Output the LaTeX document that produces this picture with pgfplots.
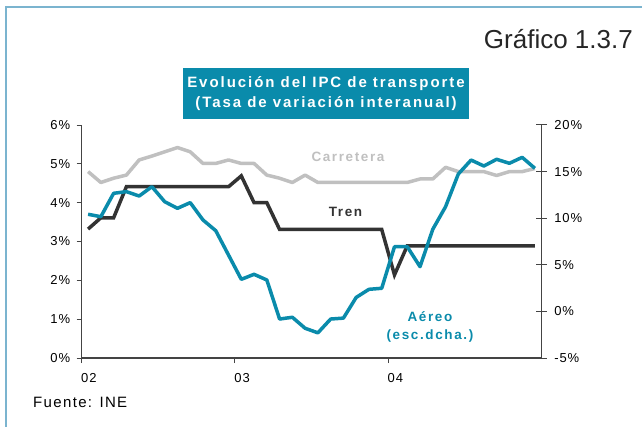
\documentclass[border=0pt]{standalone}
\usepackage{fontspec}
\setmainfont{Liberation Sans}
\newfontfamily\tickfont[LetterSpace=7]{Liberation Sans}
\newfontfamily\fuentefont[LetterSpace=9]{Liberation Sans}
\newfontfamily\lblfont[LetterSpace=12]{Liberation Sans}
\newfontfamily\ttlfont[LetterSpace=13]{Liberation Sans}
\usepackage{pgfplots}
\pgfplotsset{compat=1.18}
\definecolor{aereo}{HTML}{0A8BAB}
\definecolor{tren}{HTML}{333333}
\definecolor{carretera}{HTML}{C0C0C0}
\definecolor{framec}{HTML}{7BB4CF}
\definecolor{axc}{HTML}{444444}
\begin{document}
\begin{tikzpicture}[x=1pt,y=1pt]
\useasboundingbox (0,0) rectangle (642,-427);
\draw[framec, line width=1.6pt] (6,-428) -- (6,-7.3) -- (643,-7.3);
\node[fill=aereo, minimum width=286pt, minimum height=51pt, inner sep=0pt, align=center, text=white,
  font=\ttlfont\bfseries\fontsize{15}{20}\selectfont] at (326,-93.5)
  {Evolución del IPC de transporte\\(Tasa de variación interanual)};
\node[anchor=base east, inner sep=0pt, font=\fontsize{26}{28}\selectfont, text=black!85] at (633,-48.3) {Gráfico 1.3.7};
\node[anchor=base west, inner sep=0pt, font=\fuentefont\fontsize{15}{16}\selectfont] at (33,-407) {Fuente: INE};

\begin{axis}[
  scale only axis, width=459.6pt, height=233pt,
  at={(81.7pt,-358pt)}, anchor=south west,
  xmin=0, xmax=36, ymin=0, ymax=6,
  axis x line*=bottom, axis y line*=left,
  axis line style={-, axc, line width=1.1pt},
  xtick={0,12,24}, xticklabels={02,03,04},
  ytick={0,1,2,3,4,5,6}, yticklabels={0\%,1\%,2\%,3\%,4\%,5\%,6\%},
  tick align=outside, major tick length=5pt,
  tick style={axc, line width=1pt},
  ticklabel style={font=\tickfont\fontsize{13}{13}\selectfont},
  xticklabel style={anchor=north west, xshift=-4pt, yshift=-7pt},
  yticklabel style={xshift=-3pt},
  clip=false,
]
\addplot[carretera, line width=3.5pt, line join=round] coordinates {
(0.5,4.80)(1.5,4.52)(2.5,4.63)(3.5,4.71)(4.5,5.10)(5.5,5.20)(6.5,5.31)(7.5,5.42)
(8.5,5.31)(9.5,5.01)(10.5,5.01)(11.5,5.10)(12.5,5.01)(13.5,5.01)(14.5,4.71)(15.5,4.63)
(16.5,4.52)(17.5,4.71)(18.5,4.52)(19.5,4.52)(20.5,4.52)(21.5,4.52)(22.5,4.52)(23.5,4.52)
(24.5,4.52)(25.5,4.52)(26.5,4.61)(27.5,4.61)(28.5,4.91)(29.5,4.80)(30.5,4.80)(31.5,4.80)
(32.5,4.70)(33.5,4.80)(34.5,4.80)(35.5,4.88)};
\addplot[tren, line width=3.5pt, line join=miter] coordinates {
(0.5,3.32)(1.5,3.61)(2.5,3.61)(3.5,4.41)(4.5,4.41)(5.5,4.41)(6.5,4.41)(7.5,4.41)
(8.5,4.41)(9.5,4.41)(10.5,4.41)(11.5,4.41)(12.5,4.69)(13.5,4.00)(14.5,4.00)(15.5,3.31)
(16.5,3.31)(17.5,3.31)(18.5,3.31)(19.5,3.31)(20.5,3.31)(21.5,3.31)(22.5,3.31)(23.5,3.31)
(24.5,2.14)(25.5,2.89)(26.5,2.89)(27.5,2.89)(28.5,2.89)(29.5,2.89)(30.5,2.89)(31.5,2.89)
(32.5,2.89)(33.5,2.89)(34.5,2.89)(35.5,2.89)};
\end{axis}

\begin{axis}[
  scale only axis, width=459.6pt, height=233pt,
  at={(81.7pt,-358pt)}, anchor=south west,
  xmin=0, xmax=36, ymin=-5, ymax=20,
  axis x line=none, axis y line*=right,
  axis line style={-, axc, line width=1.1pt},
  ytick={-5,0,5,10,15,20}, yticklabels={-5\%,0\%,5\%,10\%,15\%,20\%},
  tick align=center, major tick length=11pt,
  tick style={axc, line width=1pt},
  ticklabel style={font=\tickfont\fontsize{13}{13}\selectfont},
  yticklabel style={xshift=4pt},
  clip=false,
]
\addplot[aereo, line width=3.5pt, line join=round] coordinates {
(0.5,10.42)(1.5,10.16)(2.5,12.67)(3.5,12.85)(4.5,12.38)(5.5,13.38)(6.5,11.77)(7.5,11.06)
(8.5,11.67)(9.5,9.81)(10.5,8.66)(11.5,6.05)(12.5,3.44)(13.5,3.98)(14.5,3.37)(15.5,-0.82)
(16.5,-0.63)(17.5,-1.81)(18.5,-2.30)(19.5,-0.82)(20.5,-0.72)(21.5,1.50)(22.5,2.37)(23.5,2.48)
(24.5,6.94)(25.5,6.94)(26.5,4.80)(27.5,8.81)(28.5,11.23)(29.5,14.74)(30.5,16.24)(31.5,15.60)
(32.5,16.32)(33.5,15.89)(34.5,16.53)(35.5,15.35)};
\end{axis}

\node[font=\lblfont\bfseries\fontsize{13.5}{16}\selectfont, text=carretera, inner sep=0pt] at (348,-157) {Carretera};
\node[font=\lblfont\bfseries\fontsize{13.5}{16}\selectfont, text=tren, inner sep=0pt] at (345.5,-212) {Tren};
\node[font=\lblfont\bfseries\fontsize{13.5}{18}\selectfont, text=aereo, inner sep=0pt, align=center] at (430,-327) {Aéreo\\(esc.dcha.)};
\end{tikzpicture}
\end{document}
